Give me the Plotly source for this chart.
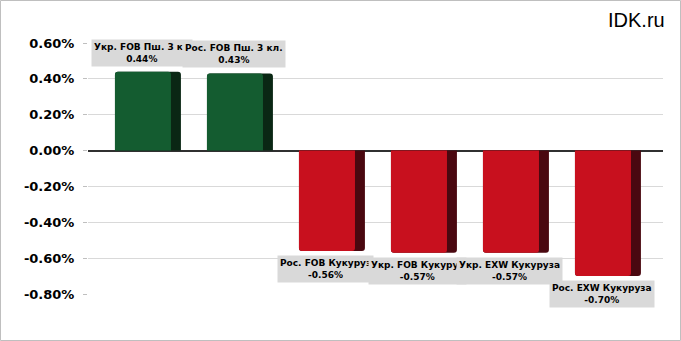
import plotly.graph_objects as go

categories = ["Укр. FOB Пш. 3 кл", "Рос. FOB Пш. 3 кл.", "Рос. FOB Кукуруз",
              "Укр. FOB Кукуруз", "Укр. EXW Кукуруза", "Рос. EXW Кукуруза"]
values = [0.44, 0.43, -0.56, -0.57, -0.57, -0.70]
tick_vals = [0.6, 0.4, 0.2, 0.0, -0.2, -0.4, -0.6, -0.8]
tick_text = ["0.60%", "0.40%", "0.20%", "0.00%", "-0.20%", "-0.40%", "-0.60%", "-0.80%"]

xs = list(range(len(categories)))
face_colors = ["#145C30" if v >= 0 else "#C8101E" for v in values]
side_colors = ["#0A2714" if v >= 0 else "#4A0810" for v in values]

fig = go.Figure()
fig.add_trace(go.Bar(x=xs, y=values, width=0.717, offset=-0.359,
                     marker=dict(color=side_colors, line=dict(width=0)),
                     hoverinfo="skip", showlegend=False))
fig.add_trace(go.Bar(x=xs, y=values, width=0.609, offset=-0.359,
                     marker=dict(color=face_colors, line=dict(width=0)),
                     showlegend=False))

annotations = []
for x, c, v in zip(xs, categories, values):
    annotations.append(dict(
        x=x, y=v, xref="x", yref="y",
        text=f"<b>{c}</b><br><b>{v:.2f}%</b>",
        showarrow=False,
        yanchor="bottom" if v >= 0 else "top",
        yshift=5 if v >= 0 else -4,
        xshift=-6,
        bgcolor="#D9D9D9",
        borderpad=2,
        font=dict(family="DejaVu Sans", size=9, color="#000000"),
        align="center",
    ))
annotations.append(dict(
    x=1.0, y=1.0, xref="paper", yref="paper", xanchor="right", yanchor="bottom",
    xshift=4, yshift=10, text="IDK.ru", showarrow=False,
    font=dict(family="Liberation Sans", size=20, color="#000000"),
))

fig.update_layout(
    width=681, height=341,
    margin=dict(l=88, r=18, t=43, b=47),
    paper_bgcolor="white", plot_bgcolor="white",
    barmode="overlay", barcornerradius=3,
    annotations=annotations,
    font=dict(family="DejaVu Sans"),
    xaxis=dict(range=[-0.652, 5.598], showticklabels=False, showgrid=False,
               zeroline=False, showline=False, ticks=""),
    yaxis=dict(range=[-0.8, 0.6], tickvals=tick_vals, ticktext=tick_text,
               showgrid=True, gridcolor="#D9D9D9", gridwidth=1,
               zeroline=True, zerolinecolor="#303030", zerolinewidth=1.5,
               ticks="outside", ticklen=4, tickcolor="#BFBFBF",
               ticklabelstandoff=6,
               tickfont=dict(family="DejaVu Sans", size=13, color="#000000",
                             weight="bold"),
               showline=False),
    shapes=[dict(type="rect", xref="paper", yref="paper",
                 x0=(0.5 - 88) / 575, x1=(680.5 - 88) / 575,
                 y0=(294 - 340.5) / 251, y1=(294 - 0.5) / 251,
                 line=dict(color="#BFBFBF", width=1), layer="below")],
)
fig.write_html("out.html")
